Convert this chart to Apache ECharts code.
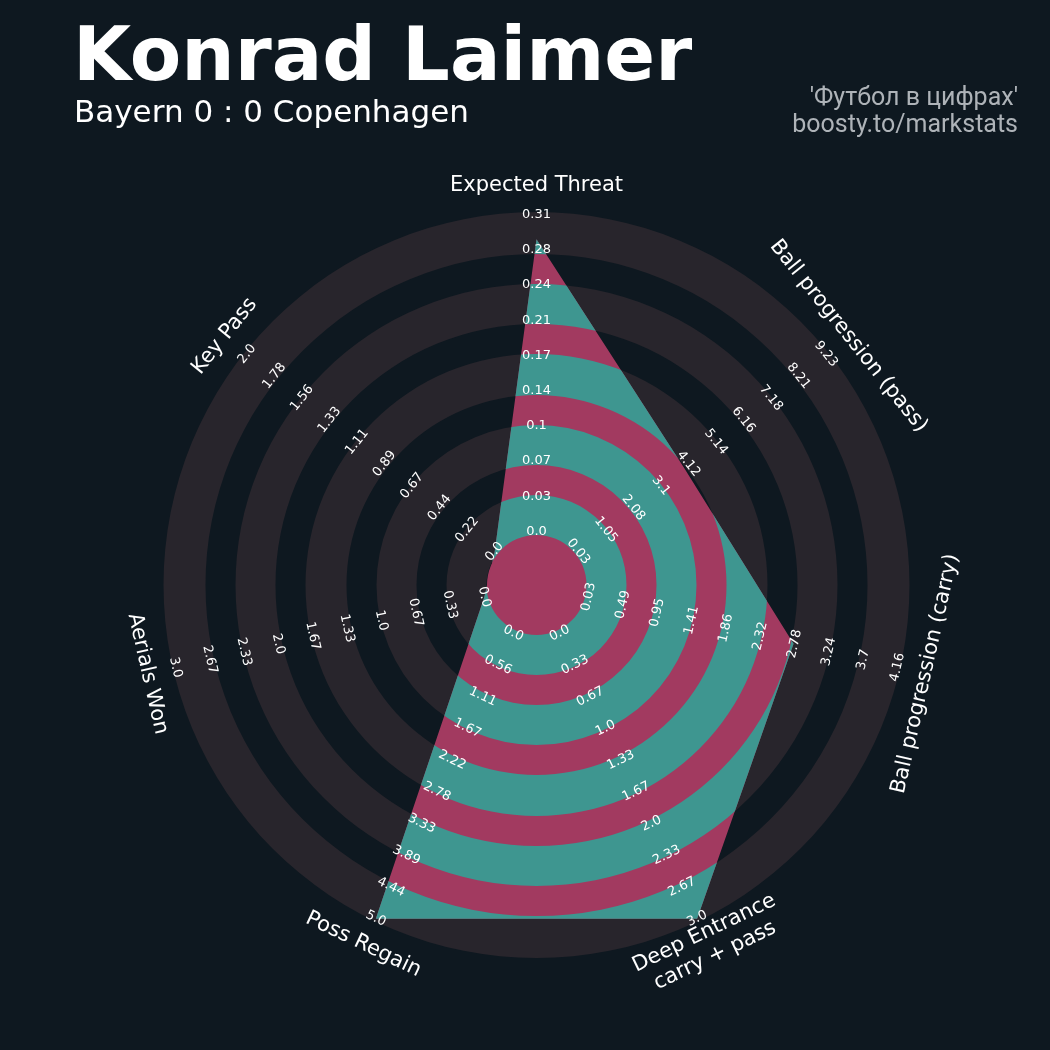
<!DOCTYPE html>
<html>
<head>
<meta charset="utf-8">
<script src="https://cdn.jsdelivr.net/npm/echarts@6/dist/echarts.min.js"></script>
<style>
html,body{margin:0;padding:0;background:#0e1820;}
#chart{width:1050px;height:1050px;}
</style>
</head>
<body>
<div id="chart"></div>
<script>
// ---------------- DATA ----------------
const params = ['Expected Threat', 'Ball progression (pass)', 'Ball progression (carry)', 'Deep Entrance\ncarry + pass', 'Poss Regain', 'Aerials Won', 'Key Pass'];
const minRange = [0.0, 0.03, 0.03, 0.0, 0.0, 0.0, 0.0];
const maxRange = [0.31, 9.23, 4.16, 3.0, 5.0, 3.0, 2.0];
const playerValues = [0.286, 3.95, 2.77, 3.0, 5.0, 0.0, 0.0];
const tickXT = ['0.0', '0.03', '0.07', '0.1', '0.14', '0.17', '0.21', '0.24', '0.28', '0.31'];
const tickPass = ['0.03', '1.05', '2.08', '3.1', '4.12', '5.14', '6.16', '7.18', '8.21', '9.23'];
const tickCarry = ['0.03', '0.49', '0.95', '1.41', '1.86', '2.32', '2.78', '3.24', '3.7', '4.16'];
const tickDeep = ['0.0', '0.33', '0.67', '1.0', '1.33', '1.67', '2.0', '2.33', '2.67', '3.0'];
const tickRegain = ['0.0', '0.56', '1.11', '1.67', '2.22', '2.78', '3.33', '3.89', '4.44', '5.0'];
const tickAerials = ['0.0', '0.33', '0.67', '1.0', '1.33', '1.67', '2.0', '2.33', '2.67', '3.0'];
const tickKeyPass = ['0.0', '0.22', '0.44', '0.67', '0.89', '1.11', '1.33', '1.56', '1.78', '2.0'];
const tickLabels = [tickXT, tickPass, tickCarry, tickDeep, tickRegain, tickAerials, tickKeyPass];
const titleText = 'Konrad Laimer';
const subtitleText = 'Bayern 0 : 0 Copenhagen';
const creditLines = ["'Футбол в цифрах'", 'boosty.to/markstats'];

// ---------------- LAYOUT / STYLE ----------------
const BG = '#0e1820', RING_GRAY = '#28252c', TEAL = '#3e9690', PINK = '#a23a60';
const R_PX = 373;
const INNER = 53.5 / R_PX, OUTER = 370.3 / R_PX;
const CENTER_CIRCLE = 49.5 / R_PX;
const RINGS = [[50, 90], [120, 160], [190, 231], [261, 301], [331, 373]].map(b => [b[0] / R_PX, b[1] / R_PX]);
const PARAM_LABEL_R = 399 / R_PX;
const N = params.length;
const STEP = 360 / N;

function axisAngle(i) { return i * STEP; }
function textRotation(i) {
  let rot = (90 - i * STEP) - 90;
  while (rot > 90) rot -= 180;
  while (rot <= -90) rot += 180;
  return rot * Math.PI / 180;
}
function valueToRadius(v, i) {
  return INNER + (v - minRange[i]) / (maxRange[i] - minRange[i]) * (OUTER - INNER);
}
function pxRadius(api, r) {
  const c = api.coord([0, 0]);
  const p = api.coord([r, 0]);
  return Math.hypot(p[0] - c[0], p[1] - c[1]);
}

const chart = echarts.init(document.getElementById('chart'), null, { renderer: 'canvas' });

const ringData = RINGS.map(b => [b[1], 0]);
const polyData = playerValues.map((v, i) => [valueToRadius(v, i), axisAngle(i)]);
const tickData = [];
tickLabels.forEach((arr, i) => {
  arr.forEach((t, k) => {
    const v = minRange[i] + k / (arr.length - 1) * (maxRange[i] - minRange[i]);
    tickData.push([valueToRadius(v, i), axisAngle(i), i, k]);
  });
});
const paramData = params.map((p, i) => [PARAM_LABEL_R, axisAngle(i), i]);

const option = {
  backgroundColor: BG,
  animation: false,
  polar: { center: [536.5, 585], radius: R_PX },
  angleAxis: { type: 'value', min: 0, max: 360, startAngle: 90, clockwise: true, show: false },
  radiusAxis: { type: 'value', min: 0, max: 1, show: false },
  graphic: [
    { type: 'text', left: 73, top: 23, style: { text: titleText, fill: '#ffffff', font: 'bold 75px "DejaVu Sans"' } },
    { type: 'text', left: 74, top: 98, style: { text: subtitleText, fill: '#ffffff', font: '31px "DejaVu Sans"' } },
    { type: 'text', right: 32, top: 86, style: { text: creditLines[0], fill: '#aeb3b8', font: '25px Roboto', textAlign: 'right' } },
    { type: 'text', right: 32, top: 113, style: { text: creditLines[1], fill: '#aeb3b8', font: '25px Roboto', textAlign: 'right' } }
  ],
  series: [
    {
      type: 'custom', coordinateSystem: 'polar', clip: false, silent: true,
      data: ringData,
      renderItem: function (p, api) {
        const b = RINGS[p.dataIndex];
        const c = api.coord([0, 0]);
        return { type: 'ring', shape: { cx: c[0], cy: c[1], r: pxRadius(api, b[1]), r0: pxRadius(api, b[0]) }, style: { fill: RING_GRAY } };
      }
    },
    {
      type: 'custom', coordinateSystem: 'polar', clip: false, silent: true,
      data: polyData,
      renderItem: function (p, api) {
        if (p.dataIndex !== 0) return null;
        const c = api.coord([0, 0]);
        const pts = polyData.map(d => api.coord([d[0], d[1]]));
        const children = [
          { type: 'circle', shape: { cx: c[0], cy: c[1], r: pxRadius(api, CENTER_CIRCLE) }, style: { fill: PINK } },
          { type: 'polygon', shape: { points: pts }, style: { fill: PINK } }
        ];
        RINGS.forEach(b => {
          children.push({
            type: 'ring',
            shape: { cx: c[0], cy: c[1], r: pxRadius(api, b[1]), r0: pxRadius(api, b[0]) },
            style: { fill: TEAL },
            clipPath: { type: 'polygon', shape: { points: pts } }
          });
        });
        return { type: 'group', children: children };
      }
    },
    {
      type: 'custom', coordinateSystem: 'polar', clip: false, silent: true,
      data: tickData,
      renderItem: function (p, api) {
        const r = api.value(0), a = api.value(1), i = api.value(2), k = api.value(3);
        const pt = api.coord([r, a]);
        return {
          type: 'text', x: pt[0], y: pt[1], rotation: textRotation(i),
          style: { text: tickLabels[i][k], fill: '#ffffff', font: '13px "DejaVu Sans"', align: 'center', verticalAlign: 'middle', textAlign: 'center', textVerticalAlign: 'middle' }
        };
      }
    },
    {
      type: 'custom', coordinateSystem: 'polar', clip: false, silent: true,
      data: paramData,
      renderItem: function (p, api) {
        const r = api.value(0), a = api.value(1), i = api.value(2);
        const pt = api.coord([r, a]);
        return {
          type: 'text', x: pt[0], y: pt[1], rotation: textRotation(i),
          style: { text: params[i], fill: '#ffffff', font: '21px "DejaVu Sans"', lineHeight: 25, align: 'center', verticalAlign: 'middle', textAlign: 'center', textVerticalAlign: 'middle' }
        };
      }
    }
  ]
};
chart.setOption(option);
</script>
</body>
</html>
